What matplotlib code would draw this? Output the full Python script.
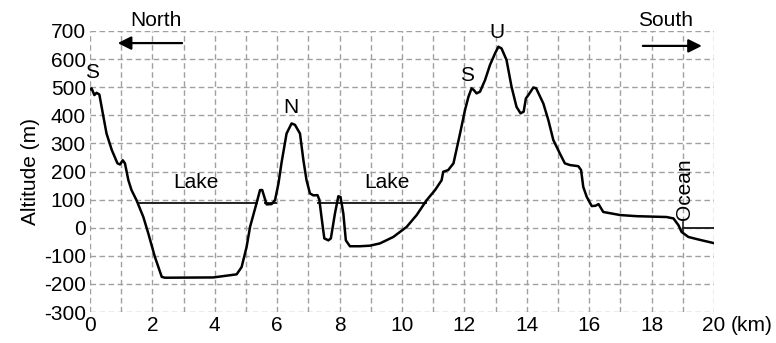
import matplotlib
matplotlib.use("Agg")
import matplotlib.pyplot as plt

plt.rcParams['font.family'] = ['Liberation Sans', 'DejaVu Sans']

# Profile data (distance km, altitude m)
dist_km = [0.0, 0.05, 0.14, 0.21, 0.30, 0.43, 0.53, 0.70, 0.88, 0.96, 1.05, 1.12,
           1.23, 1.33, 1.49, 1.71, 1.87, 2.08, 2.30, 2.40, 3.95, 4.70, 4.86, 5.02,
           5.13, 5.34, 5.45, 5.52, 5.66, 5.82, 5.93, 6.04, 6.14, 6.30, 6.46, 6.57,
           6.73, 6.84, 6.94, 7.05, 7.16, 7.29, 7.35, 7.42, 7.51, 7.64, 7.72, 7.85,
           7.96, 8.03, 8.12, 8.20, 8.33, 8.65, 8.97, 9.29, 9.72, 10.15, 10.47, 10.79,
           11.06, 11.27, 11.32, 11.48, 11.65, 11.86, 12.02, 12.13, 12.23, 12.30, 12.39,
           12.50, 12.66, 12.82, 12.98, 13.09, 13.19, 13.35, 13.51, 13.67, 13.80, 13.90,
           13.97, 14.05, 14.21, 14.30, 14.53, 14.69, 14.85, 15.06, 15.22, 15.38, 15.65,
           15.74, 15.81, 15.92, 16.08, 16.20, 16.30, 16.45, 16.99, 17.52, 18.48, 18.70,
           18.86, 18.96, 19.18, 19.50, 20.0]
alt_m = [492, 496, 472, 480, 474, 395, 335, 276, 229, 225, 240, 229,
         169, 134, 98, 38, -21, -104, -175, -178, -177, -166, -140, -68,
         3, 88, 134, 134, 83, 84, 98, 157, 232, 335, 371, 366,
         335, 240, 169, 122, 115, 116, 100, 38, -38, -45, -38, 50,
         112, 109, 50, -45, -66, -66, -64, -56, -33, 3, 45, 98,
         134, 169, 199, 205, 229, 335, 419, 466, 496, 490, 478,
         484, 525, 579, 620, 644, 638, 597, 502, 430, 407, 413,
         460, 472, 499, 496, 442, 383, 312, 264, 229, 223, 219,
         205, 145, 110, 77, 78, 84, 56, 45, 41, 38, 33,
         9, -15, -33, -42, -55]

# Water levels
lake_start_km = [1.55, 5.62, 7.30]
lake_end_km = [5.34, 5.95, 10.76]
lake_level_m = [88, 88, 88]
ocean_start_km = 19.0
ocean_end_km = 20.0
ocean_level_m = 0

# Labels
peak_labels = ['S', 'N', 'S', 'U']
peak_x = [0.06, 6.44, 12.08, 13.04]
peak_y = [554, 429, 543, 696]
lake_label_x = [3.4, 9.52]
lake_label_y = [162, 162]

x_ticks = [0, 2, 4, 6, 8, 10, 12, 14, 16, 18, 20]
y_ticks = [-300, -200, -100, 0, 100, 200, 300, 400, 500, 600, 700]

FS = 15

fig = plt.figure(figsize=(7.76, 3.43), dpi=100)
ax = fig.add_axes([90/776, (343-312)/343, 624/776, 281/343])
ax.set_xlim(0, 20)
ax.set_ylim(-300, 700)

# grid
for xv in range(0, 21):
    ax.axvline(xv, color='#a0a0a0', lw=1.0, ls=(0, (4, 2.5)), zorder=0)
for yv in range(-300, 701, 100):
    ax.axhline(yv, color='#a0a0a0', lw=1.0, ls=(0, (4, 2.5)), zorder=0)
for s in ax.spines.values():
    s.set_visible(False)

ax.set_xticks(x_ticks)
ax.set_xticklabels([str(v) for v in x_ticks])
ax.set_yticks(y_ticks)
ax.set_yticklabels([str(v) for v in y_ticks])
ax.tick_params(axis='x', length=0, labelsize=FS, pad=3)
ax.tick_params(axis='y', length=0, labelsize=FS, pad=3)
ax.set_ylabel('Altitude (m)', fontsize=FS, labelpad=3)

ax.plot(dist_km, alt_m, color='black', lw=1.8, zorder=3)
for xs, xe, lv in zip(lake_start_km, lake_end_km, lake_level_m):
    ax.plot([xs, xe], [lv, lv], color='#222222', lw=1.4, zorder=2)
ax.plot([ocean_start_km, ocean_end_km], [ocean_level_m, ocean_level_m], color='#222222', lw=1.4, zorder=2)
ax.plot([ocean_start_km, ocean_start_km], [20, -20], color='#222222', lw=1.2, zorder=2)

for lab, px, py in zip(peak_labels, peak_x, peak_y):
    ax.text(px, py, lab, fontsize=FS, ha='center', va='center')
for lx, ly in zip(lake_label_x, lake_label_y):
    ax.text(lx, ly, 'Lake', fontsize=FS, ha='center', va='center')
ax.text(19.07, 28, 'Ocean', fontsize=FS, rotation=90, ha='center', va='bottom')

# direction arrows
ax.annotate('', xy=(0.8, 657), xytext=(3.04, 657),
            arrowprops=dict(arrowstyle='-|>', color='black', lw=1.6, mutation_scale=20))
ax.annotate('', xy=(19.7, 647), xytext=(17.63, 647),
            arrowprops=dict(arrowstyle='-|>', color='black', lw=1.6, mutation_scale=20))
ax.text(2.1, 738, 'North', fontsize=FS, ha='center', va='center', clip_on=False)
ax.text(18.45, 738, 'South', fontsize=FS, ha='center', va='center', clip_on=False)
ax.annotate('(km)', xy=(20, -300), xycoords='data', xytext=(12, -3),
            textcoords='offset points', fontsize=FS, ha='left', va='top',
            annotation_clip=False)

fig.savefig('out.png', dpi=100)
